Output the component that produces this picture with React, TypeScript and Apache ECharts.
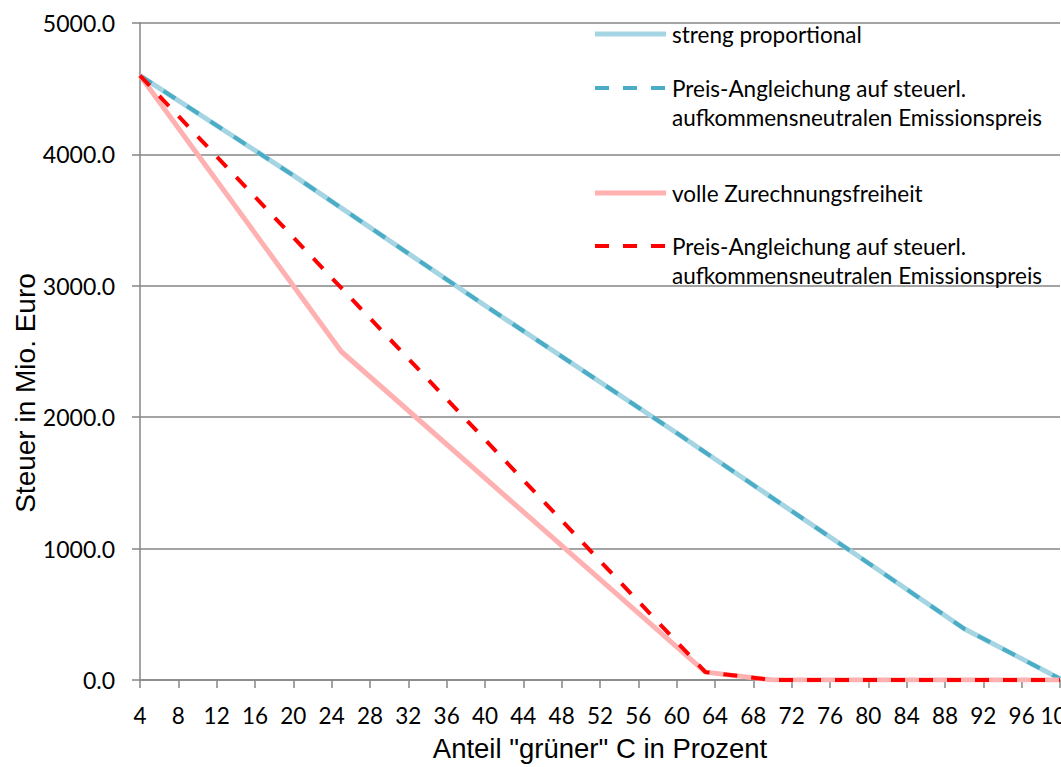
import React, { useEffect, useRef } from "react";
import * as echarts from "echarts";

// ---- data ----
const yTicks = [0, 1000, 2000, 3000, 4000, 5000];

const xProportional = [4, 20, 40, 60, 80, 90, 100];
const yProportional = [4600, 3840, 2850, 1880, 890, 390, 10];

const xPreisBlue = [4, 20, 40, 60, 80, 90, 100];
const yPreisBlue = [4600, 3840, 2850, 1880, 890, 390, 10];

const xFreiheit = [4, 25, 63, 70, 100];
const yFreiheit = [4600, 2500, 60, 0, 0];

const xPreisRed = [4, 63, 70, 100];
const yPreisRed = [4600, 60, 0, 0];

const seriesNames = [
  "streng proportional",
  "Preis-Angleichung auf steuerl.\naufkommensneutralen Emissionspreis",
  "volle Zurechnungsfreiheit",
  "Preis-Angleichung auf steuerl.\naufkommensneutralen Emissionspreis",
];

const xTitle = 'Anteil "grüner" C in Prozent';
const yTitle = "Steuer in Mio. Euro";

const pairs = (xs: number[], ys: number[]) => xs.map((x, i) => [x, ys[i]]);

const C_LIGHTBLUE = "#A5D5E2";
const C_BLUE = "#4BACC6";
const C_PINK = "#FFB0B0";
const C_RED = "#FF0000";
const C_GRID = "#868686";
const FONT = "Lato";
const TITLE_FONT = "Liberation Sans";

export default function App() {
  const ref = useRef<HTMLDivElement>(null);
  useEffect(() => {
    if (!ref.current) return;
    const chart = echarts.init(ref.current, undefined, { renderer: "svg" });

    const styles = [
      { color: C_LIGHTBLUE, width: 5, type: "solid" as any },
      { color: C_BLUE, width: 4, type: [14, 14] as any },
      { color: C_PINK, width: 5, type: "solid" as any },
      { color: C_RED, width: 4, type: [14, 14] as any },
    ];
    const datas = [
      pairs(xProportional, yProportional),
      pairs(xPreisBlue, yPreisBlue),
      pairs(xFreiheit, yFreiheit),
      pairs(xPreisRed, yPreisRed),
    ];

    const legendY = [34, 88, 193, 246];
    const legendGraphics: any[] = [];
    legendY.forEach((y, i) => {
      legendGraphics.push({
        type: "line",
        shape: { x1: 595, y1: y, x2: 666, y2: y },
        style: {
          stroke: styles[i].color,
          lineWidth: styles[i].width,
          lineDash: Array.isArray(styles[i].type) ? styles[i].type : null,
        },
        z: 100,
      });
      const multi = seriesNames[i].includes("\n");
      legendGraphics.push({
        type: "text",
        x: 672,
        y: multi ? y - 14.5 : y,
        style: {
          text: seriesNames[i],
          font: `22.5px ${FONT}`,
          fill: "#000",
          textAlign: "left",
          textVerticalAlign: multi ? "top" : "middle",
          lineHeight: 29,
        },
        z: 100,
      });
    });

    chart.setOption({
      animation: false,
      grid: {
        left: 140,
        right: 1,
        top: 23,
        bottom: 87,
        containLabel: false,
        outerBoundsMode: "none",
      },
      xAxis: {
        type: "value",
        min: 4,
        max: 100,
        interval: 4,
        name: xTitle,
        nameLocation: "middle",
        nameGap: 54,
        nameTextStyle: { fontFamily: TITLE_FONT, fontSize: 27.5, color: "#000" },
        axisLine: { show: true, lineStyle: { color: C_GRID, width: 1.5 } },
        axisTick: { show: true, length: 8, lineStyle: { color: C_GRID, width: 1.5 } },
        axisLabel: { margin: 24, fontFamily: FONT, fontSize: 22.5, color: "#000" },
        splitLine: { show: false },
      },
      yAxis: {
        type: "value",
        min: yTicks[0],
        max: yTicks[yTicks.length - 1],
        interval: 1000,
        axisLine: { show: true, lineStyle: { color: C_GRID, width: 1.5 } },
        axisTick: { show: true, length: 8, lineStyle: { color: C_GRID, width: 1.5 } },
        axisLabel: {
          margin: 25,
          fontFamily: FONT,
          fontSize: 23,
          color: "#000",
          formatter: (v: number) => v.toFixed(1),
        },
        splitLine: { show: true, lineStyle: { color: C_GRID, width: 1.5 } },
      },
      graphic: [
        {
          type: "text",
          x: 25,
          y: 393,
          rotation: Math.PI / 2,
          style: {
            text: yTitle,
            font: `28px ${TITLE_FONT}`,
            fill: "#000",
            textAlign: "center",
            textVerticalAlign: "middle",
          },
        },
        ...legendGraphics,
      ],
      series: datas.map((d, i) => ({
        type: "line",
        name: seriesNames[i],
        data: d,
        showSymbol: false,
        symbol: "none",
        lineStyle: styles[i],
        z: 2 + i,
      })),
    });
    return () => chart.dispose();
  }, []);
  return (
    <div
      ref={ref}
      style={{ position: "fixed", left: 0, top: 0, width: 1061, height: 767, background: "#fff" }}
    />
  );
}
